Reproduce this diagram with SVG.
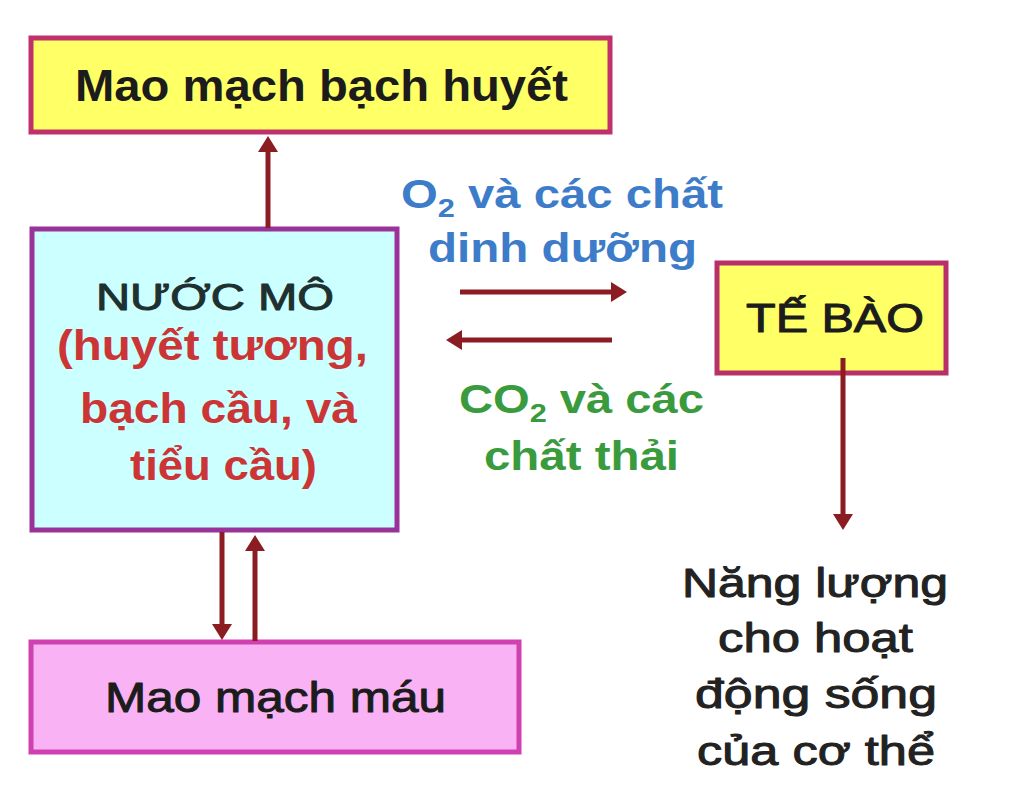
<svg xmlns="http://www.w3.org/2000/svg" width="1024" height="805" viewBox="0 0 1024 805">
<defs>
<marker id="ah" markerUnits="userSpaceOnUse" markerWidth="16" markerHeight="20" refX="2" refY="10" orient="auto">
<path d="M0,0 L16,10 L0,20 z" fill="#8a1c22"/>
</marker>
<style>
.t{font-family:"Liberation Sans",Arial,sans-serif}
.b{font-weight:bold}
.conn line{stroke:#8a1c22;stroke-width:5;marker-end:url(#ah)}
.blk{fill:#1c1c1c}
.med{stroke-width:1;stroke-linejoin:round}
.red{fill:#cc3535;font-weight:bold}
.blue{fill:#3d7cc9;font-weight:bold}
.green{fill:#3a9a3e;font-weight:bold}
</style>
</defs>
<rect width="1024" height="805" fill="#ffffff"/>
<g id="mao-mach-bach-huyet">
<rect x="31" y="38" width="579" height="94" fill="#ffff66" stroke="#c0306a" stroke-width="5"/>
<text class="t b blk" x="75" y="101" font-size="45" textLength="493" lengthAdjust="spacingAndGlyphs">Mao mạch bạch huyết</text>
</g>
<g id="nuoc-mo">
<rect x="32" y="229" width="365" height="301" fill="#ccffff" stroke="#9a3399" stroke-width="5"/>
<text class="t med" x="96" y="310" font-size="37" fill="#1e3030" stroke="#1e3030" textLength="238" lengthAdjust="spacingAndGlyphs">NƯỚC MÔ</text>
<text class="t red" x="57" y="360" font-size="42" textLength="311" lengthAdjust="spacingAndGlyphs">(huyết tương,</text>
<text class="t red" x="80" y="423" font-size="42" textLength="277" lengthAdjust="spacingAndGlyphs">bạch cầu, và</text>
<text class="t red" x="130" y="480" font-size="42" textLength="187" lengthAdjust="spacingAndGlyphs">tiểu cầu)</text>
</g>
<g id="te-bao">
<rect x="717" y="263" width="229" height="110" fill="#ffff66" stroke="#b8306a" stroke-width="5"/>
<text class="t blk med" stroke="#1c1c1c" x="746" y="332" font-size="40" textLength="178" lengthAdjust="spacingAndGlyphs">TẾ BÀO</text>
</g>
<g id="mao-mach-mau">
<rect x="31" y="642" width="488" height="110" fill="#f9b3f5" stroke="#d040b0" stroke-width="5"/>
<text class="t blk med" stroke="#1c1c1c" x="105" y="712" font-size="43" textLength="341" lengthAdjust="spacingAndGlyphs">Mao mạch máu</text>
</g>
<g id="label-o2">
<text class="t blue" x="401" y="208" font-size="40" textLength="322" lengthAdjust="spacingAndGlyphs">O<tspan font-size="26" dy="9">2</tspan><tspan dy="-9"> và các chất</tspan></text>
<text class="t blue" x="428" y="262" font-size="40" textLength="269" lengthAdjust="spacingAndGlyphs">dinh dưỡng</text>
</g>
<g id="label-co2">
<text class="t green" x="459" y="413" font-size="40" textLength="245" lengthAdjust="spacingAndGlyphs">CO<tspan font-size="26" dy="9">2</tspan><tspan dy="-9"> và các</tspan></text>
<text class="t green" x="484" y="470" font-size="40" textLength="195" lengthAdjust="spacingAndGlyphs">chất thải</text>
</g>
<g id="nang-luong" fill="#222" stroke="#222">
<text class="t med" x="682" y="597" font-size="41" textLength="266" lengthAdjust="spacingAndGlyphs">Năng lượng</text>
<text class="t med" x="718" y="652" font-size="41" textLength="195" lengthAdjust="spacingAndGlyphs">cho hoạt</text>
<text class="t med" x="695" y="708" font-size="41" textLength="242" lengthAdjust="spacingAndGlyphs">động sống</text>
<text class="t med" x="697" y="765" font-size="41" textLength="238" lengthAdjust="spacingAndGlyphs">của cơ thể</text>
</g>
<g id="connectors" class="conn">
<line x1="268" y1="228" x2="268" y2="150"/>
<line x1="460" y1="292" x2="613" y2="292"/>
<line x1="612" y1="340" x2="460" y2="340"/>
<line x1="843" y1="358" x2="843" y2="516"/>
<line x1="222" y1="532" x2="222" y2="626"/>
<line x1="255" y1="641" x2="255" y2="549"/>
</g>
</svg>
